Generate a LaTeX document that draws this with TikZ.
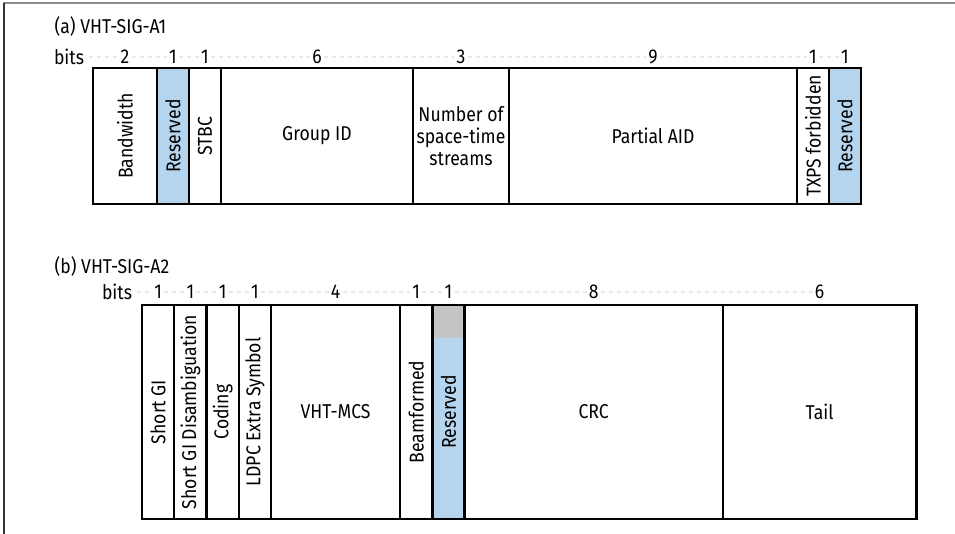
\documentclass[tikz,border=0pt]{standalone}
\usepackage{fontspec}
\setmainfont{Fira Sans}[FakeStretch=0.88]
\usetikzlibrary{positioning}
\definecolor{resblue}{HTML}{B5D4EE}
\definecolor{resgrey}{HTML}{C4C4C4}
\definecolor{framegrey}{HTML}{8C8C8C}

\begin{document}
\begin{tikzpicture}[x=0.75pt, y=-0.75pt, font=\fontsize{15}{16.5}\selectfont,
  cella/.style={draw, line width=1.8pt, outer sep=0pt, inner sep=2pt, minimum height=102pt, align=center},
  cellb/.style={draw, line width=1.8pt, outer sep=0pt, inner sep=2pt, minimum height=160.5pt, align=center},
  num/.style={fill=white, inner sep=1.5pt},
  leader/.style={black!9, dashed, line width=0.8pt}]
  \useasboundingbox (0,0) rectangle (955,534);
  \draw[framegrey, line width=1.6pt] (3,3.3) -- (955,3.3);
  \draw[black!80, line width=1.6pt] (4,3) -- (4,534);

  \node[anchor=west] (titlea) at (50,27) {(a) VHT-SIG-A1};
  \node (bitsa) at (69,57) {bits};

  \node[cella, minimum width=2*24pt, anchor=west] (bw) at (93,136) {\rotatebox{90}{Bandwidth}};
  \node[cella, fill=resblue, minimum width=24pt, right=0pt of bw] (resa) {\rotatebox{90}{Reserved}};
  \node[cella, minimum width=24pt, right=0pt of resa] (stbc) {\rotatebox{90}{STBC}};
  \node[cella, minimum width=6*24pt, right=0pt of stbc] (gid) {Group ID};
  \node[cella, minimum width=3*24pt, right=0pt of gid] (nsts) {Number of\\space-time\\streams};
  \node[cella, minimum width=9*24pt, right=0pt of nsts] (paid) {Partial AID};
  \node[cella, minimum width=24pt, right=0pt of paid] (txps) {\rotatebox{90}{TXPS forbidden}};
  \node[cella, fill=resblue, minimum width=24pt, right=0pt of txps] (resb) {\rotatebox{90}{Reserved}};

  \node[num] (na1) at ([yshift=8.25pt]bw.north) {2};
  \node[num] (na2) at ([yshift=8.25pt]resa.north) {1};
  \node[num] (na3) at ([yshift=8.25pt]stbc.north) {1};
  \node[num] (na4) at ([yshift=8.25pt]gid.north) {6};
  \node[num] (na5) at ([yshift=8.25pt]nsts.north) {3};
  \node[num] (na6) at ([yshift=8.25pt]paid.north) {9};
  \node[num] (na7) at ([yshift=8.25pt]txps.north) {1};
  \node[num] (na8) at ([yshift=8.25pt]resb.north) {1};
  \draw[leader] (bitsa) -- (na1) -- (na2) -- (na3) -- (na4) -- (na5) -- (na6) -- (na7) -- (na8);

  \node[anchor=west] (titleb) at (50,267) {(b) VHT-SIG-A2};
  \node (bitsb) at (117,292) {bits};

  \node[cellb, minimum width=24.2pt, anchor=west] (sgi) at (142,412) {\rotatebox{90}{Short GI}};
  \node[cellb, minimum width=24.2pt, right=0pt of sgi] (sgid) {\rotatebox{90}{Short GI Disambiguation}};
  \node[cellb, minimum width=24.2pt, right=0pt of sgid] (coding) {\rotatebox{90}{Coding}};
  \node[cellb, minimum width=24.2pt, right=0pt of coding] (ldpc) {\rotatebox{90}{LDPC Extra Symbol}};
  \node[cellb, minimum width=4*24.2pt, right=0pt of ldpc] (mcs) {VHT-MCS};
  \node[cellb, minimum width=24.2pt, right=0pt of mcs] (bf) {\rotatebox{90}{Beamformed}};
  \node[cellb, fill=resblue, minimum width=24.2pt, right=0pt of bf,
    path picture={\fill[resgrey] (path picture bounding box.north west) rectangle ([yshift=-24.75pt]path picture bounding box.north east);}] (resc) {\rotatebox{90}{Reserved}};
  \node[cellb, minimum width=8*24.2pt, right=0pt of resc] (crc) {CRC};
  \node[cellb, minimum width=6*24.2pt, right=0pt of crc] (tail) {Tail};

  \node[num] (nb1) at ([yshift=9.75pt]sgi.north) {1};
  \node[num] (nb2) at ([yshift=9.75pt]sgid.north) {1};
  \node[num] (nb3) at ([yshift=9.75pt]coding.north) {1};
  \node[num] (nb4) at ([yshift=9.75pt]ldpc.north) {1};
  \node[num] (nb5) at ([yshift=9.75pt]mcs.north) {4};
  \node[num] (nb6) at ([yshift=9.75pt]bf.north) {1};
  \node[num] (nb7) at ([yshift=9.75pt]resc.north) {1};
  \node[num] (nb8) at ([yshift=9.75pt]crc.north) {8};
  \node[num] (nb9) at ([yshift=9.75pt]tail.north) {6};
  \draw[leader] (bitsb) -- (nb1) -- (nb2) -- (nb3) -- (nb4) -- (nb5) -- (nb6) -- (nb7) -- (nb8) -- (nb9);
\end{tikzpicture}
\end{document}
